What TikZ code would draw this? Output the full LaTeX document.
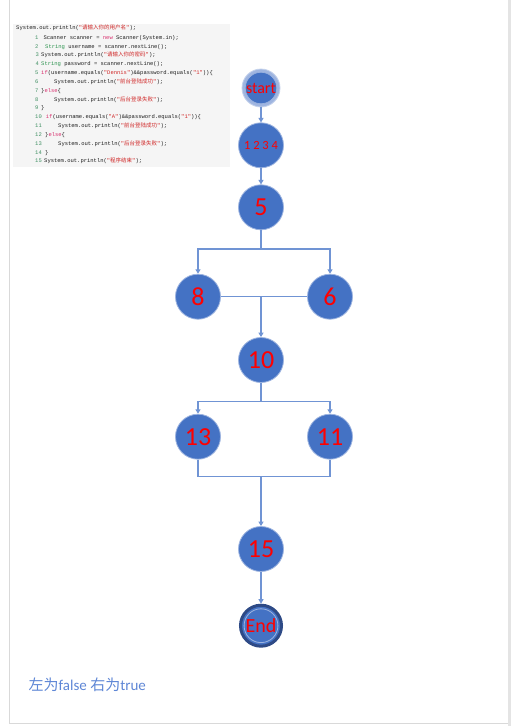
\documentclass[tikz,border=0pt]{standalone}
\usepackage{fontspec}
\usetikzlibrary{arrows.meta}
\setmainfont{Carlito}
\newfontfamily\codemono{Liberation Mono}
\newfontfamily\cjk{Noto Sans CJK SC}
\definecolor{nodeblue}{HTML}{4472C4}
\definecolor{nodeedge}{HTML}{9DB4E0}
\definecolor{linkblue}{HTML}{7094D4}
\definecolor{ringlight}{HTML}{9FB5E0}
\definecolor{ringdark}{HTML}{2E4A86}
\definecolor{codebg}{HTML}{F5F5F5}
\definecolor{codetxt}{HTML}{1E1E1E}
\definecolor{codestr}{HTML}{D02828}
\definecolor{codekw}{HTML}{D8306E}
\definecolor{codety}{HTML}{2E9450}
\definecolor{codenum}{HTML}{3F8F62}
\definecolor{notecol}{HTML}{5F87D6}
\definecolor{framegray}{HTML}{D9D9D9}
\newcommand{\cs}[1]{\textcolor{codestr}{#1}}
\newcommand{\ck}[1]{\textcolor{codekw}{#1}}
\newcommand{\ct}[1]{\textcolor{codety}{#1}}
\newcommand{\zh}[1]{{\cjk #1}}
\begin{document}
\begin{tikzpicture}[x=1pt,y=-1pt,
  flownode/.style={circle,minimum size=45pt,inner sep=0pt,fill=nodeblue,draw=nodeedge,line width=0.8pt,text=red,font=\fontsize{26}{26}\selectfont},
  conn/.style={draw=linkblue,line width=1.2pt},
  arr/.style={conn,-{Triangle[length=4.5pt,width=5pt]}},
  codeline/.style={anchor=base west,inner sep=0pt,text=codetxt,font=\codemono\fontsize{5.5}{6}\selectfont},
  codeno/.style={codeline,text=codenum}]
\fill[white] (0,0) rectangle (511,726);
\useasboundingbox (0,0) rectangle (511,726);
% page frame
\draw[framegray,line width=0.8pt] (9.5,0) -- (9.5,723.5) -- (508,723.5);
\fill[framegray!70] (508,0) rectangle (511,726);
% code box
\fill[codebg] (13,24) rectangle (230,167);
\node[codeline] (c0) at (16,29.8) {System.out.println(\cs{"\zh{请输入你的用户名}"});};
\node[codeno] (l1) at (35,39.3) {1};
\node[codeline] (c1) at (43.3,39.3) {Scanner scanner = \ck{new} Scanner(System.in);};
\node[codeno] (l2) at (35,48) {2};
\node[codeline] (c2) at (45,48) {\ct{String} username = scanner.nextLine();};
\node[codeno] (l3) at (35.5,56.7) {3};
\node[codeline] (c3) at (41,56.7) {System.out.println(\cs{"\zh{请输入你的密码}"});};
\node[codeno] (l4) at (35.5,65.3) {4};
\node[codeline] (c4) at (41,65.3) {\ct{String} password = scanner.nextLine();};
\node[codeno] (l5) at (35,74.3) {5};
\node[codeline] (c5) at (41,74.3) {\ck{if}(username.equals(\cs{"Dennis"})\&\&password.equals(\cs{"1"}))\{};
\node[codeno] (l6) at (35,83) {6};
\node[codeline] (c6) at (54,83) {System.out.println(\cs{"\zh{前台登陆成功}"});};
\node[codeno] (l7) at (35,92) {7};
\node[codeline] (c7) at (41,92) {\}\ck{else}\{};
\node[codeno] (l8) at (35,101) {8};
\node[codeline] (c8) at (54,101) {System.out.println(\cs{"\zh{后台登录失败}"});};
\node[codeno] (l9) at (35,109.3) {9};
\node[codeline] (c9) at (41,109.3) {\}};
\node[codeno] (l10) at (35,118.7) {10};
\node[codeline] (c10) at (45.7,118.7) {\ck{if}(username.equals(\cs{"A"})\&\&password.equals(\cs{"1"}))\{};
\node[codeno] (l11) at (35,127.3) {11};
\node[codeline] (c11) at (58,127.3) {System.out.println(\cs{"\zh{前台登陆成功}"});};
\node[codeno] (l12) at (35,136) {12};
\node[codeline] (c12) at (45,136) {\}\ck{else}\{};
\node[codeno] (l13) at (35,145) {13};
\node[codeline] (c13) at (58,145) {System.out.println(\cs{"\zh{后台登录失败}"});};
\node[codeno] (l14) at (35,154) {14};
\node[codeline] (c14) at (45,154) {\}};
\node[codeno] (l15) at (35,162.7) {15};
\node[codeline] (c15) at (44,162.7) {System.out.println(\cs{"\zh{程序结束}"});};
% flow graph
\node[circle,minimum size=38pt,inner sep=0pt,fill=ringlight,draw=nodeedge!60,line width=0.8pt] (start) at (261,88) {};
\node[circle,minimum size=30pt,inner sep=0pt,fill=nodeblue,draw=nodeedge,line width=0.6pt,text=red,font=\fontsize{16}{16}\selectfont] (startin) at (start.center) {start};
\node[flownode,font=\fontsize{12.5}{12.5}\selectfont] (n1) at (261,145.3) {1 2 3 4};
\node[flownode] (n5) at (261,207.3) {5};
\node[flownode] (n8) at (198,296.7) {8};
\node[flownode] (n6) at (330,296.7) {6};
\node[flownode] (n10) at (261,360) {10};
\node[flownode] (n13) at (198,436.7) {13};
\node[flownode] (n11) at (330,436.7) {11};
\node[flownode] (n15) at (261,549) {15};
\node[circle,minimum size=41pt,inner sep=0pt,fill=nodeblue,draw=ringdark,line width=3pt] (endn) at (261,625.7) {};
\node[circle,minimum size=33pt,inner sep=0pt,draw=nodeedge,line width=0.8pt,text=red,font=\fontsize{20}{20}\selectfont] (endin) at (endn.center) {End};
\coordinate (j1) at (261,249);
\coordinate (j2) at (261,296.7);
\coordinate (j3) at (261,401.7);
\coordinate (j4) at (261,476.7);
\draw[arr] (start) -- (n1);
\draw[arr] (n1) -- (n5);
\draw[conn] (n5) -- (j1);
\draw[arr] (j1) -| (n8);
\draw[arr] (j1) -| (n6);
\draw[conn] (n8) -- (n6);
\draw[arr] (j2) -- (n10);
\draw[conn] (n10) -- (j3);
\draw[arr] (j3) -| (n13);
\draw[arr] (j3) -| (n11);
\draw[conn] (n13) |- (j4) -| (n11);
\draw[arr] (j4) -- (n15);
\draw[arr] (n15) -- (endn);
% note
\node[anchor=west,inner sep=0pt,text=notecol,font=\fontsize{15}{15}\selectfont] (note) at (28.5,684.5) {\zh{左为}false \zh{右为}true};
\end{tikzpicture}
\end{document}
